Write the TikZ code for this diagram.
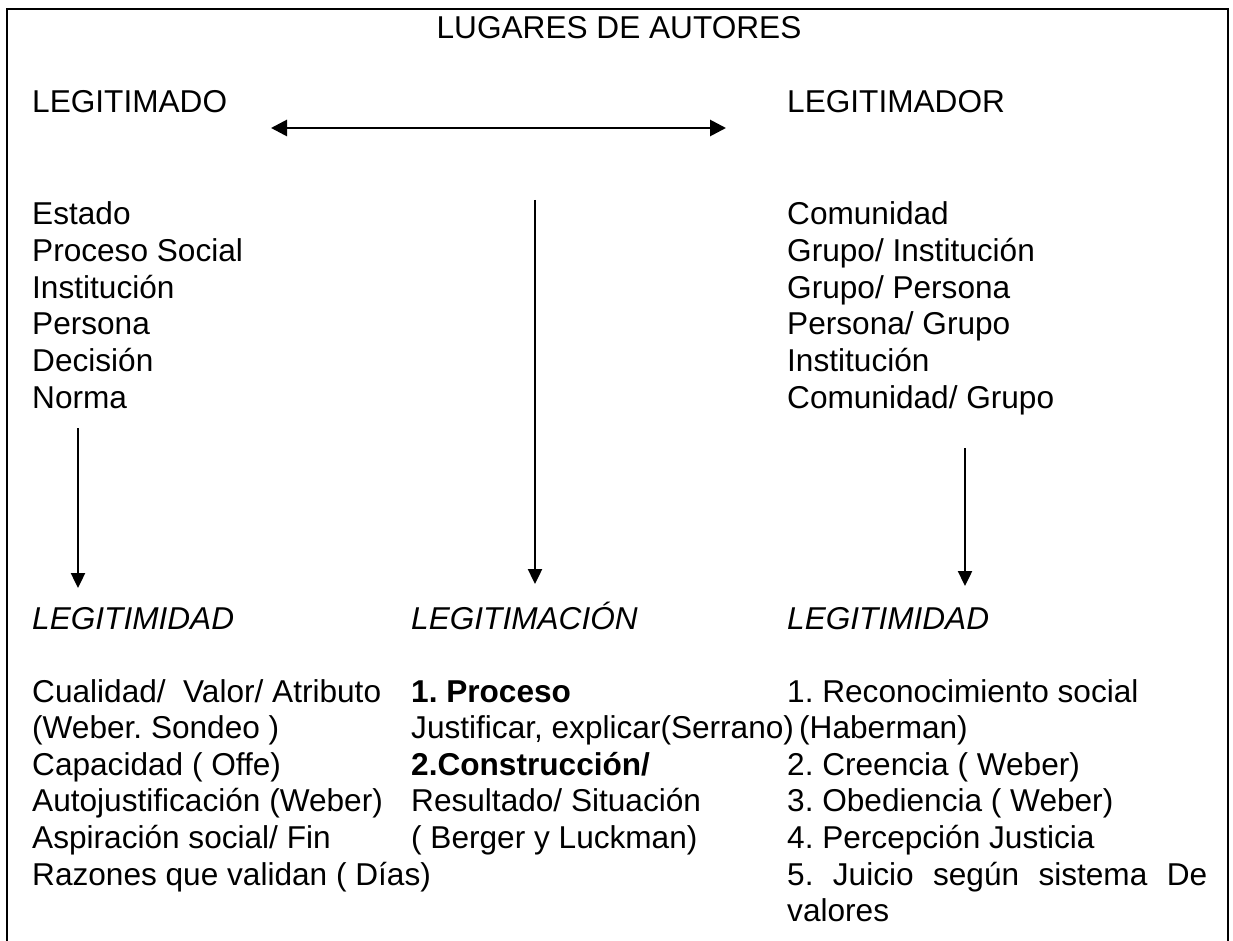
\documentclass[tikz,border=0pt]{standalone}
\usepackage{fontspec}
\setmainfont{Liberation Sans}
\usetikzlibrary{arrows.meta,positioning}
\frenchspacing
\tikzset{
  txt/.style={anchor=base west, inner sep=0pt, font=\fontsize{31.6}{36.6}\selectfont},
  flecha/.style={line width=2.4pt, -{Triangle[length=15pt,width=14pt]}},
  doble/.style={line width=2.8pt, {Triangle[length=16pt,width=16pt]}-{Triangle[length=16pt,width=16pt]}},
  marco/.style={line width=2.2pt}
}

\begin{document}
\begin{tikzpicture}[x=1pt,y=-1pt]
    \useasboundingbox (0,0) rectangle (1233,941);
    \draw[marco] (7,941) -- (7,9) -- (1228,9) -- (1228,941);
    \node[txt,anchor=base] (titulo) at (619,39) {LUGARES DE AUTORES};
    \node[txt] (legdo) at (32,113) {LEGITIMADO};
    \node[txt] (legdor) at (787,113) {LEGITIMADOR};
    \coordinate (dobA) at (271,128);
    \coordinate (dobB) at (726,128);
    \draw[doble] (dobA) -- (dobB);
    % columna izquierda
    \begin{scope}[xshift=32pt]
      \foreach \t [count=\i] in {Estado, Proceso Social, Institución, Persona, Decisión, Norma}
        \node[txt] (izq\i) at (0,{225+36.6*(\i-1)}) {\t};
      \node[txt] (legizq) at (0,629) {\itshape LEGITIMIDAD};
      \foreach \t [count=\i] in {Cualidad/~~Valor/ Atributo, (Weber. Sondeo ), Capacidad ( Offe),
          Autojustificación (Weber), Aspiración social/ Fin, Razones que validan ( Días)}
        \node[txt] (abizq\i) at (0,{702+36.6*(\i-1)}) {\t};
    \end{scope}
    % columna central
    \begin{scope}[xshift=411pt]
      \node[txt] (legmed) at (0,629) {\itshape LEGITIMACIÓN};
      \foreach \t [count=\i] in {\textbf{1. Proceso}, {Justificar, explicar(Serrano)}, \textbf{2.Construcción/},
          Resultado/ Situación, ( Berger y Luckman)}
        \node[txt] (abmed\i) at (0,{702+36.6*(\i-1)}) {\t};
    \end{scope}
    % columna derecha
    \begin{scope}[xshift=787pt]
      \foreach \t [count=\i] in {Comunidad, Grupo/ Institución, Grupo/ Persona, Persona/ Grupo,
          Institución, Comunidad/ Grupo}
        \node[txt] (der\i) at (0,{225+36.6*(\i-1)}) {\t};
      \node[txt] (legder) at (0,629) {\itshape LEGITIMIDAD};
      \foreach \t [count=\i] in {1. Reconocimiento social, \hspace{12pt}(Haberman), 2. Creencia ( Weber),
          3. Obediencia ( Weber), 4. Percepción Justicia, {\makebox[420pt][s]{5. Juicio según sistema De}}, valores}
        \node[txt] (abder\i) at (0,{702+36.6*(\i-1)}) {\t};
    \end{scope}
    % flechas verticales
    \coordinate (izqA) at (78,428);
    \coordinate (izqB) at (78,588);
    \coordinate (medA) at (535,200);
    \coordinate (medB) at (535,584);
    \coordinate (derA) at (965,448);
    \coordinate (derB) at (965,586);
    \draw[flecha] (izqA) -- (izqB);
    \draw[flecha] (medA) -- (medB);
    \draw[flecha] (derA) -- (derB);
\end{tikzpicture}
\end{document}
